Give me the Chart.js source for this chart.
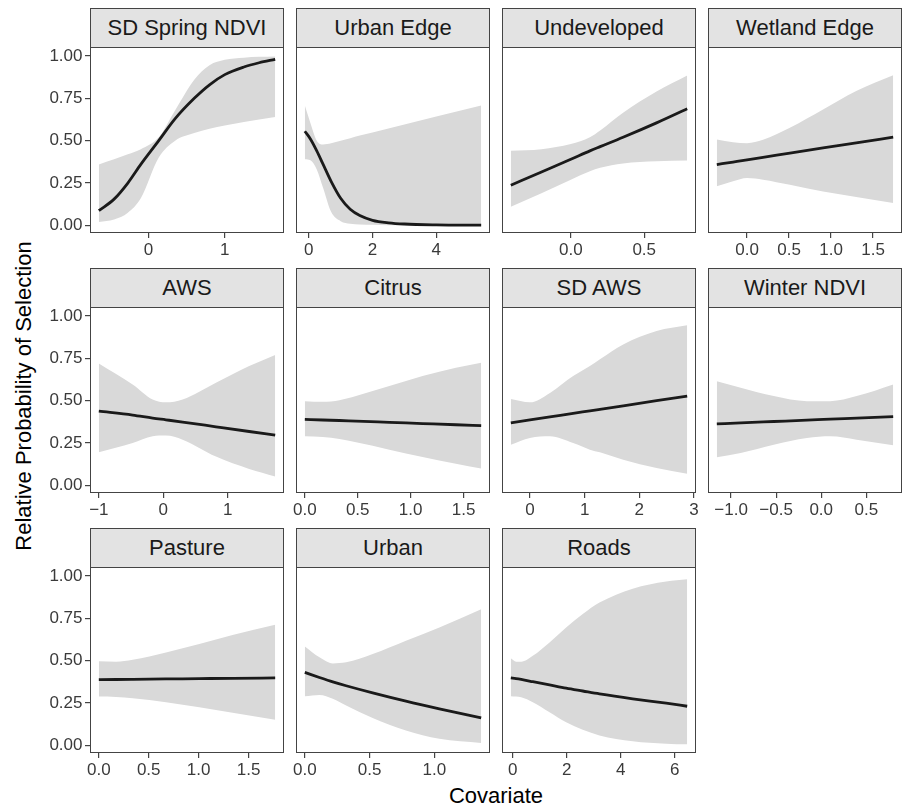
<!DOCTYPE html>
<html>
<head>
<meta charset="utf-8">
<script src="https://cdn.jsdelivr.net/npm/chart.js@4.4.1/dist/chart.umd.min.js"></script>
<style>
  body { margin: 0; background: #fff; }
  #fig { position: relative; width: 903px; height: 809px; overflow: hidden;
         font-family: 'Liberation Sans', Arial, Helvetica, sans-serif; }
  .strip { position: absolute; box-sizing: border-box; height: 40px; background: #e3e3e3;
           border: 1px solid #444; color: #1a1a1a; font-size: 22px; line-height: 38px;
           text-align: center; white-space: nowrap; }
  canvas { position: absolute; }
  .ytitle { position: absolute; left: 24px; top: 396px; white-space: nowrap;
            transform: translate(-50%, -50%) rotate(-90deg);
            font-size: 22px; line-height: 22px; color: #000; }
  .xtitle { position: absolute; left: 496px; top: 785px; transform: translateX(-50%);
            font-size: 22px; line-height: 22px; color: #000; }
</style>
</head>
<body>
<div id="fig">
  <div class="ytitle">Relative Probability of Selection</div>
  <div class="xtitle">Covariate</div>
</div>
<script>
// facet titles, in facet order
const facetTitles = ['SD Spring NDVI', 'Urban Edge', 'Undeveloped', 'Wetland Edge',
                     'AWS', 'Citrus', 'SD AWS', 'Winter NDVI',
                     'Pasture', 'Urban', 'Roads'];

// shared y axis
const yTicks = [0, 0.25, 0.5, 0.75, 1];
const yTickLabels = ['0.00', '0.25', '0.50', '0.75', '1.00'];

// SD Spring NDVI
const sdSpringX   = [-0.65, -0.45, -0.27, -0.1, 0.135, 0.35, 0.6, 0.8, 1.0, 1.25, 1.45, 1.66];
const sdSpringFit = [0.087, 0.155, 0.25, 0.36, 0.50, 0.63, 0.75, 0.83, 0.89, 0.935, 0.96, 0.98];
const sdSpringLo  = [0.02, 0.035, 0.075, 0.16, 0.40, 0.50, 0.545, 0.57, 0.59, 0.61, 0.625, 0.64];
const sdSpringHi  = [0.36, 0.39, 0.42, 0.45, 0.52, 0.68, 0.86, 0.945, 0.977, 0.99, 0.995, 0.997];
const sdSpringTicks = [0, 1];
const sdSpringTickLabels = ['0', '1'];

// Urban Edge
const urbanEdgeX   = [-0.125, 0.05, 0.25, 0.45, 0.7, 1.0, 1.3, 1.6, 2.0, 2.5, 3.0, 4.0, 5.41];
const urbanEdgeFit = [0.556, 0.51, 0.44, 0.36, 0.26, 0.16, 0.095, 0.058, 0.03, 0.015, 0.008, 0.003, 0.001];
const urbanEdgeLo  = [0.39, 0.385, 0.33, 0.22, 0.08, 0.025, 0.01, 0.005, 0.003, 0.001, 0.001, 0.0, 0.0];
const urbanEdgeHi  = [0.708, 0.605, 0.50, 0.478, 0.485, 0.50, 0.515, 0.53, 0.549, 0.572, 0.596, 0.642, 0.708];
const urbanEdgeTicks = [0, 2, 4];
const urbanEdgeTickLabels = ['0', '2', '4'];

// Undeveloped
const undevX   = [-0.409, -0.2, 0, 0.13, 0.2, 0.356, 0.584, 0.793];
const undevFit = [0.237, 0.315, 0.39, 0.44, 0.465, 0.52, 0.605, 0.688];
const undevLo  = [0.11, 0.19, 0.27, 0.32, 0.34, 0.365, 0.378, 0.383];
const undevHi  = [0.44, 0.45, 0.48, 0.52, 0.56, 0.665, 0.79, 0.885];
const undevTicks = [0, 0.5];
const undevTickLabels = ['0.0', '0.5'];

// Wetland Edge
const wetlandX   = [-0.36, -0.167, 0, 0.19, 0.51, 0.905, 1.30, 1.74];
const wetlandFit = [0.359, 0.374, 0.387, 0.402, 0.426, 0.457, 0.487, 0.521];
const wetlandLo  = [0.231, 0.26, 0.28, 0.27, 0.24, 0.20, 0.168, 0.132];
const wetlandHi  = [0.507, 0.49, 0.485, 0.505, 0.576, 0.684, 0.793, 0.886];
const wetlandTicks = [0, 0.5, 1, 1.5];
const wetlandTickLabels = ['0.0', '0.5', '1.0', '1.5'];

// AWS
const awsX   = [-1.0, -0.475, -0.165, 0.04, 0.30, 0.817, 1.333, 1.736];
const awsFit = [0.438, 0.415, 0.397, 0.387, 0.374, 0.346, 0.318, 0.296];
const awsLo  = [0.195, 0.25, 0.29, 0.294, 0.27, 0.17, 0.097, 0.053];
const awsHi  = [0.72, 0.596, 0.507, 0.49, 0.507, 0.606, 0.704, 0.769];
const awsTicks = [-1, 0, 1];
const awsTickLabels = ['\u22121', '0', '1'];

// Citrus
const citrusX   = [0, 0.17, 0.327, 0.484, 0.799, 1.113, 1.428, 1.667];
const citrusFit = [0.39, 0.386, 0.383, 0.379, 0.372, 0.365, 0.358, 0.353];
const citrusLo  = [0.29, 0.286, 0.274, 0.254, 0.211, 0.168, 0.128, 0.10];
const citrusHi  = [0.497, 0.493, 0.503, 0.527, 0.586, 0.645, 0.694, 0.724];
const citrusTicks = [0, 0.5, 1, 1.5];
const citrusTickLabels = ['0.0', '0.5', '1.0', '1.5'];

// SD AWS
const sdAwsX   = [-0.35, 0, 0.366, 0.79, 1.097, 1.28, 1.706, 2.316, 2.876];
const sdAwsFit = [0.369, 0.386, 0.404, 0.425, 0.440, 0.449, 0.470, 0.500, 0.527];
const sdAwsLo  = [0.24, 0.28, 0.29, 0.25, 0.211, 0.195, 0.152, 0.103, 0.069];
const sdAwsHi  = [0.51, 0.49, 0.546, 0.645, 0.704, 0.744, 0.832, 0.911, 0.945];
const sdAwsTicks = [0, 1, 2, 3];
const sdAwsTickLabels = ['0', '1', '2', '3'];

// Winter NDVI
const winterX   = [-1.158, -0.893, -0.526, -0.158, 0.1, 0.393, 0.798];
const winterFit = [0.363, 0.369, 0.377, 0.385, 0.391, 0.397, 0.406];
const winterLo  = [0.166, 0.191, 0.24, 0.28, 0.29, 0.27, 0.237];
const winterHi  = [0.615, 0.576, 0.527, 0.497, 0.497, 0.527, 0.596];
const winterTicks = [-1, -0.5, 0, 0.5];
const winterTickLabels = ['\u22121.0', '\u22120.5', '0.0', '0.5'];

// Pasture
const pastureX   = [0, 0.173, 0.34, 0.673, 1.007, 1.34, 1.767];
const pastureFit = [0.388, 0.389, 0.39, 0.392, 0.394, 0.396, 0.398];
const pastureLo  = [0.288, 0.286, 0.278, 0.255, 0.225, 0.192, 0.151];
const pastureHi  = [0.496, 0.494, 0.506, 0.549, 0.598, 0.651, 0.712];
const pastureTicks = [0, 0.5, 1, 1.5];
const pastureTickLabels = ['0.0', '0.5', '1.0', '1.5'];

// Urban
const urbanX   = [0, 0.113, 0.216, 0.319, 0.524, 0.781, 1.039, 1.362];
const urbanFit = [0.431, 0.401, 0.375, 0.352, 0.31, 0.261, 0.216, 0.163];
const urbanLo  = [0.29, 0.298, 0.275, 0.235, 0.161, 0.088, 0.039, 0.014];
const urbanHi  = [0.584, 0.52, 0.484, 0.49, 0.539, 0.618, 0.696, 0.804];
const urbanTicks = [0, 0.5, 1];
const urbanTickLabels = ['0.0', '0.5', '1.0'];

// Roads
const roadsX   = [-0.074, 0.12, 0.31, 0.74, 1.36, 1.975, 2.59, 3.21, 4.44, 5.68, 6.457];
const roadsFit = [0.398, 0.394, 0.389, 0.376, 0.357, 0.338, 0.321, 0.304, 0.275, 0.249, 0.231];
const roadsLo  = [0.29, 0.288, 0.284, 0.255, 0.196, 0.137, 0.092, 0.059, 0.024, 0.01, 0.006];
const roadsHi  = [0.514, 0.494, 0.494, 0.529, 0.608, 0.696, 0.775, 0.843, 0.925, 0.967, 0.98];
const roadsTicks = [0, 2, 4, 6];
const roadsTickLabels = ['0', '2', '4', '6'];

const panels = [
  {x: sdSpringX, fit: sdSpringFit, lo: sdSpringLo, hi: sdSpringHi, ticks: sdSpringTicks, labels: sdSpringTickLabels},
  {x: urbanEdgeX, fit: urbanEdgeFit, lo: urbanEdgeLo, hi: urbanEdgeHi, ticks: urbanEdgeTicks, labels: urbanEdgeTickLabels},
  {x: undevX, fit: undevFit, lo: undevLo, hi: undevHi, ticks: undevTicks, labels: undevTickLabels},
  {x: wetlandX, fit: wetlandFit, lo: wetlandLo, hi: wetlandHi, ticks: wetlandTicks, labels: wetlandTickLabels},
  {x: awsX, fit: awsFit, lo: awsLo, hi: awsHi, ticks: awsTicks, labels: awsTickLabels},
  {x: citrusX, fit: citrusFit, lo: citrusLo, hi: citrusHi, ticks: citrusTicks, labels: citrusTickLabels},
  {x: sdAwsX, fit: sdAwsFit, lo: sdAwsLo, hi: sdAwsHi, ticks: sdAwsTicks, labels: sdAwsTickLabels},
  {x: winterX, fit: winterFit, lo: winterLo, hi: winterHi, ticks: winterTicks, labels: winterTickLabels},
  {x: pastureX, fit: pastureFit, lo: pastureLo, hi: pastureHi, ticks: pastureTicks, labels: pastureTickLabels},
  {x: urbanX, fit: urbanFit, lo: urbanLo, hi: urbanHi, ticks: urbanTicks, labels: urbanTickLabels},
  {x: roadsX, fit: roadsFit, lo: roadsLo, hi: roadsHi, ticks: roadsTicks, labels: roadsTickLabels}
];

// layout of the facet grid (pixels)
const COL_X = [90, 296, 502, 708];
const ROW_Y = [47, 307, 567];
const PANEL_W = 194, PANEL_H = 186, STRIP_H = 39;
const AXIS_W = 88, AXIS_H = 34, PAD_TOP = 16, PAD_RIGHT = 16;
const FONT = "'Liberation Sans', Arial, Helvetica, sans-serif";
const RIBBON = '#d9d9d9', LINE = '#1a1a1a', FRAME = '#444444', TICK_TEXT = '#3a3a3a';

// panel.border, drawn over the data like ggplot
const panelBorder = {
  id: 'panelBorder',
  afterDatasetsDraw(chart) {
    const {ctx, chartArea: a} = chart;
    ctx.save();
    ctx.strokeStyle = FRAME;
    ctx.lineWidth = 1;
    ctx.strokeRect(a.left + 0.5, a.top + 0.5, a.right - a.left - 1, a.bottom - a.top - 1);
    ctx.restore();
  }
};

const fig = document.getElementById('fig');

panels.forEach((p, i) => {
  const col = i % 4, row = Math.floor(i / 4);
  const left = COL_X[col], top = ROW_Y[row];
  const firstCol = col === 0;

  const strip = document.createElement('div');
  strip.className = 'strip';
  strip.style.left = left + 'px';
  strip.style.top = (top - STRIP_H) + 'px';
  strip.style.width = PANEL_W + 'px';
  strip.textContent = facetTitles[i];
  fig.appendChild(strip);

  const canvas = document.createElement('canvas');
  canvas.width = AXIS_W + PANEL_W + PAD_RIGHT;
  canvas.height = PAD_TOP + PANEL_H + AXIS_H;
  canvas.style.left = (left - AXIS_W) + 'px';
  canvas.style.top = (top - PAD_TOP) + 'px';
  fig.appendChild(canvas);

  // ggplot default 5% expansion of the data range
  const x0 = p.x[0], x1 = p.x[p.x.length - 1], ex = (x1 - x0) * 0.05;
  const pts = ys => p.x.map((x, k) => ({x: x, y: ys[k]}));

  new Chart(canvas, {
    type: 'line',
    data: {
      datasets: [
        {data: pts(p.hi), fill: '+1', backgroundColor: RIBBON, borderColor: 'rgba(0,0,0,0)',
         borderWidth: 0, pointRadius: 0, cubicInterpolationMode: 'monotone', order: 1},
        {data: pts(p.lo), fill: false, borderColor: 'rgba(0,0,0,0)',
         borderWidth: 0, pointRadius: 0, cubicInterpolationMode: 'monotone', order: 2},
        {data: pts(p.fit), fill: false, borderColor: LINE, borderWidth: 2.8,
         pointRadius: 0, cubicInterpolationMode: 'monotone', order: 0}
      ]
    },
    options: {
      responsive: false,
      animation: false,
      devicePixelRatio: 1,
      layout: {padding: {top: PAD_TOP, right: PAD_RIGHT, left: 0, bottom: 0}},
      plugins: {legend: {display: false}, tooltip: {enabled: false}},
      scales: {
        x: {
          type: 'linear',
          bounds: 'data',
          min: x0 - ex,
          max: x1 + ex,
          afterBuildTicks: a => { a.ticks = p.ticks.map(v => ({value: v})); },
          afterFit: a => { a.height = AXIS_H; },
          border: {display: false},
          grid: {display: true, drawOnChartArea: false, drawTicks: true, tickLength: 5,
                 tickColor: FRAME, tickWidth: 1.2, lineWidth: 1.2},
          ticks: {autoSkip: false, maxRotation: 0, padding: 2, color: TICK_TEXT,
                  font: {family: FONT, size: 17},
                  callback: (v, k) => p.labels[k]}
        },
        y: {
          type: 'linear',
          bounds: 'data',
          min: -0.045,
          max: 1.053,
          afterBuildTicks: a => { a.ticks = yTicks.map(v => ({value: v})); },
          afterFit: a => { a.width = AXIS_W; },
          border: {display: false},
          grid: {display: firstCol, drawOnChartArea: false, drawTicks: true, tickLength: 5,
                 tickColor: FRAME, tickWidth: 1.2, lineWidth: 1.2},
          ticks: {display: firstCol, padding: 2.5, color: TICK_TEXT,
                  font: {family: FONT, size: 17},
                  callback: (v, k) => yTickLabels[k]}
        }
      }
    },
    plugins: [panelBorder]
  });
});
</script>
</body>
</html>
